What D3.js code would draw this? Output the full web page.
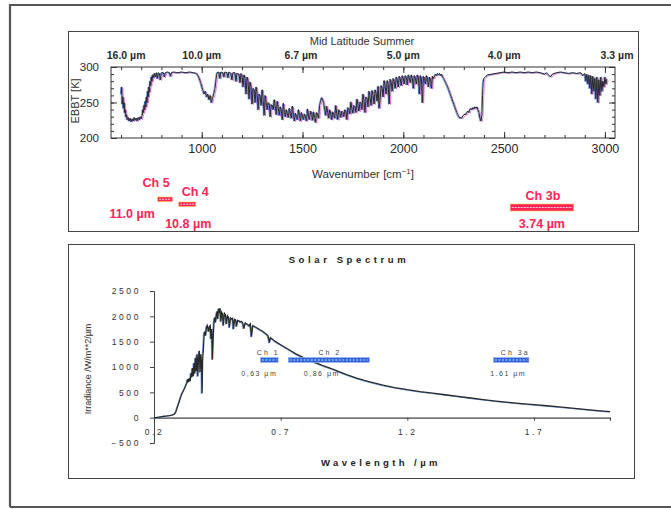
<!DOCTYPE html>
<html>
<head>
<meta charset="utf-8">
<script src="https://cdn.jsdelivr.net/npm/d3@7"></script>
<style>
  body { margin: 0; background: #fff; }
  svg { display: block; font-family: "Liberation Sans", Arial, Helvetica, sans-serif; }
</style>
</head>
<body>
<svg id="chart" width="671" height="509"></svg>
<script>
// ---- Mid-latitude summer brightness temperature spectrum: [wavenumber cm-1, EBBT K]
const irSpectrum = [
  [600,262],[603,272],[606,248],[609,258],[612,242],[615,250],[618,236],[621,240],[624,230],[627,233],
  [630,226],[635,229],[640,224],[645,228],[650,223],[655,227],[660,224],[665,229],[670,225],[675,228],
  [680,224],[685,229],[690,226],[695,230],[700,227],[705,232],[708,240],[711,236],[714,246],[717,240],
  [720,252],[723,244],[726,258],[729,250],[732,266],[735,258],[738,272],[741,265],[744,280],[747,274],
  [750,286],[753,280],[756,289],[760,285],[765,291],[770,286],[775,292],[780,284],[785,292],[790,291],
  [795,282],[800,292],[810,292],[815,286],[820,292],[830,293],[840,292],[845,287],[850,292],[860,293],
  [880,292],[900,293],[920,292],[940,293],[960,292],[975,291],[985,286],[995,278],[1005,268],[1012,262],
  [1018,266],[1024,258],[1030,262],[1036,254],[1042,260],[1048,250],[1054,256],[1060,262],[1066,270],[1072,284],
  [1076,292],[1085,293],[1090,284],[1095,293],[1105,292],[1110,286],[1115,293],[1125,292],[1130,285],[1135,293],
  [1145,291],[1150,282],[1155,292],[1165,292],[1170,280],[1175,291],[1185,290],[1190,278],[1195,291],[1200,288],
  [1205,272],[1210,289],[1215,284],[1220,262],[1225,286],[1230,280],[1235,255],[1240,279],[1245,272],[1250,248],
  [1255,270],[1260,268],[1265,250],[1270,272],[1275,262],[1280,240],[1285,262],[1290,258],[1295,246],[1300,268],
  [1305,254],[1310,232],[1315,260],[1320,250],[1325,240],[1330,250],[1335,248],[1340,230],[1345,247],[1350,246],
  [1355,240],[1360,254],[1365,244],[1370,233],[1375,252],[1380,242],[1385,232],[1390,244],[1395,238],[1400,226],
  [1405,249],[1410,236],[1415,230],[1420,240],[1425,234],[1430,229],[1435,242],[1440,234],[1445,228],[1450,245],
  [1455,232],[1460,224],[1465,235],[1470,230],[1475,226],[1480,240],[1485,232],[1490,224],[1495,236],[1500,230],
  [1505,226],[1510,234],[1515,230],[1520,224],[1525,241],[1530,230],[1535,226],[1540,238],[1545,236],[1550,225],
  [1555,237],[1560,229],[1565,222],[1570,236],[1575,233],[1580,228],[1585,246],[1590,252],[1595,257],[1600,254],
  [1605,250],[1610,240],[1615,232],[1620,245],[1625,236],[1630,228],[1635,240],[1640,234],[1645,226],[1650,237],
  [1655,233],[1660,228],[1665,246],[1670,234],[1675,226],[1680,240],[1685,236],[1690,229],[1695,238],[1700,236],
  [1705,230],[1710,240],[1715,238],[1720,226],[1725,243],[1730,240],[1735,234],[1740,251],[1745,241],[1750,235],
  [1755,246],[1760,244],[1765,236],[1770,255],[1775,246],[1780,238],[1785,251],[1790,248],[1795,240],[1800,262],
  [1805,252],[1810,236],[1815,258],[1820,255],[1825,244],[1830,266],[1835,257],[1840,246],[1845,267],[1850,260],
  [1855,248],[1860,268],[1865,263],[1870,252],[1875,273],[1880,242],[1885,254],[1890,274],[1895,270],[1900,258],
  [1905,281],[1910,273],[1915,262],[1920,281],[1925,276],[1930,248],[1935,283],[1940,278],[1945,266],[1950,284],
  [1955,280],[1960,270],[1965,286],[1970,282],[1975,272],[1980,287],[1985,283],[1990,274],[1995,288],[2000,284],
  [2005,276],[2010,288],[2015,285],[2020,275],[2025,289],[2030,285],[2035,278],[2040,289],[2045,284],[2050,270],
  [2055,288],[2060,284],[2065,276],[2070,289],[2075,285],[2080,262],[2085,288],[2090,283],[2095,250],[2100,287],
  [2105,284],[2110,276],[2115,288],[2120,283],[2125,272],[2130,286],[2135,282],[2140,270],[2145,287],[2150,284],
  [2155,287],[2160,290],[2165,288],[2170,291],[2175,289],[2180,291],[2185,288],[2190,290],[2195,286],[2200,284],
  [2205,281],[2210,278],[2215,275],[2220,272],[2225,268],[2230,264],[2235,260],[2240,256],[2245,252],[2250,248],
  [2255,244],[2260,240],[2265,236],[2270,233],[2275,230],[2280,228],[2285,229],[2290,228],[2295,231],[2300,232],
  [2305,234],[2310,233],[2315,236],[2320,238],[2325,236],[2330,240],[2335,242],[2340,240],[2345,243],[2350,241],
  [2355,244],[2360,242],[2365,244],[2370,240],[2375,236],[2380,228],[2385,224],[2390,232],[2393,260],[2396,278],
  [2400,284],[2410,287],[2420,289],[2440,290],[2460,291],[2480,292],[2500,293],[2520,292],[2540,293],[2560,292],
  [2580,293],[2600,292],[2620,293],[2640,292],[2660,293],[2680,292],[2700,290],[2710,292],[2720,289],[2730,286],
  [2740,290],[2760,292],[2780,293],[2800,292],[2820,291],[2840,292],[2860,291],[2880,292],[2890,288],[2900,291],
  [2905,280],[2910,290],[2915,276],[2920,289],[2925,270],[2930,288],[2935,262],[2940,287],[2945,266],[2950,284],
  [2955,255],[2960,286],[2965,250],[2970,282],[2975,260],[2980,286],[2985,266],[2990,280],[2995,272],[3000,286],
  [3005,276],[3010,283]
];
const irXTicks = [1000, 1500, 2000, 2500, 3000];
const irYTicks = [200, 250, 300];
const irTopWavelengths = [16.0, 10.0, 6.7, 5.0, 4.0, 3.3];
const irTopLabels = ["16.0 µm", "10.0 µm", "6.7 µm", "5.0 µm", "4.0 µm", "3.3 µm"];
const irChannelNames = ["Ch 5", "Ch 4", "Ch 3b"];
const irChannelBands = [[781, 856], [886, 970], [2530, 2845]];
const irChannelCentres = ["11.0 µm", "10.8 µm", "3.74 µm"];

// ---- Solar spectrum: [wavelength µm, irradiance W/m**2/µm]
const solarSpectrum = [
  [0.20,0],[0.21,4],[0.22,12],[0.23,20],[0.24,28],[0.25,34],[0.26,42],[0.27,52],[0.28,68],[0.285,100],
  [0.29,170],[0.295,250],[0.30,320],[0.305,400],[0.31,470],[0.315,520],[0.32,570],[0.325,630],[0.33,690],[0.333,760],
  [0.336,700],[0.34,780],[0.343,720],[0.346,880],[0.349,800],[0.352,980],[0.355,820],[0.358,1080],[0.361,870],[0.364,1180],
  [0.367,920],[0.370,1250],[0.373,820],[0.376,1200],[0.379,1320],[0.382,900],[0.385,1250],[0.388,1050],[0.390,480],[0.392,1150],
  [0.395,1350],[0.398,1650],[0.401,1700],[0.404,1620],[0.407,1780],[0.410,1820],[0.413,1760],[0.416,1700],[0.419,1800],[0.422,1820],
  [0.425,1560],[0.428,1750],[0.431,1150],[0.434,1600],[0.437,1900],[0.440,1980],[0.443,1880],[0.446,2020],[0.449,2100],[0.452,1950],
  [0.455,2150],[0.458,2100],[0.461,2160],[0.464,1900],[0.467,2080],[0.470,2050],[0.474,1820],[0.478,2060],[0.482,2030],[0.486,1850],
  [0.490,2010],[0.494,1980],[0.498,1780],[0.502,1970],[0.506,1950],[0.510,1960],[0.514,1750],[0.518,1940],[0.522,1930],[0.526,1800],
  [0.530,1920],[0.535,1910],[0.540,1890],[0.545,1900],[0.550,1870],[0.555,1760],[0.560,1870],[0.565,1850],[0.570,1840],[0.575,1810],
  [0.580,1850],[0.585,1600],[0.590,1820],[0.600,1790],[0.610,1760],[0.620,1730],[0.630,1700],[0.640,1660],[0.650,1620],[0.656,1480],
  [0.660,1580],[0.680,1500],[0.700,1440],[0.720,1380],[0.740,1320],[0.760,1260],[0.780,1210],[0.800,1160],[0.820,1120],[0.850,1060],
  [0.870,1020],[0.900,970],[0.930,910],[0.960,850],[1.00,780],[1.03,735],[1.06,695],[1.10,645],[1.15,595],[1.20,552],
  [1.25,515],[1.30,485],[1.35,452],[1.40,420],[1.45,388],[1.50,358],[1.55,328],[1.60,302],[1.65,278],[1.70,256],
  [1.75,235],[1.80,212],[1.85,190],[1.90,165],[1.95,140],[2.00,118]
];
const solarXTicks = [0.2, 0.7, 1.2, 1.7];
const solarYTicks = [-500, 0, 500, 1000, 1500, 2000, 2500];
const solarChannelNames = ["Ch 1", "Ch 2", "Ch 3a"];
const solarChannelBands = [[0.62, 0.69], [0.73, 1.05], [1.54, 1.68]];
const solarChannelCentres = ["0,63 µm", "0,86 µm", "1.61 µm"];

const svg = d3.select("#chart");
const RED = "#ff2458";
const BLUE = "#2f62d6";

// outer frame and panel boxes
svg.append("path").attr("d", "M10,507 L10,5 L671,5 M10,507 L671,507")
  .attr("fill", "none").attr("stroke", "#555").attr("stroke-width", 2.2);
svg.append("rect").attr("x", 68.5).attr("y", 31.5).attr("width", 570).attr("height", 200)
  .attr("fill", "none").attr("stroke", "#444").attr("stroke-width", 1);
svg.append("rect").attr("x", 68.5).attr("y", 244.5).attr("width", 566).attr("height", 234)
  .attr("fill", "none").attr("stroke", "#444").attr("stroke-width", 1);

// ================= Top panel: EBBT vs wavenumber =================
const ir = { left: 111, right: 615, top: 67, bottom: 138 };
const xIR = d3.scaleLinear().domain([550, 3050]).range([ir.left, ir.right]);
const yIR = d3.scaleLinear().domain([200, 300]).range([ir.bottom, ir.top]);
const gIR = svg.append("g");

svg.append("defs").append("clipPath").attr("id", "irclip")
  .append("rect").attr("x", ir.left).attr("y", ir.top - 2).attr("width", ir.right - ir.left).attr("height", ir.bottom - ir.top + 4);

const irLine = d3.line().x(d => xIR(d[0])).y(d => yIR(d[1]));
const irLayers = [
  { color: "#d64fc8", dx: 1.2, dy: 0.8, w: 0.9, op: 0.75 },
  { color: "#3d78d8", dx: -0.8, dy: 0.4, w: 0.9, op: 0.8 },
  { color: "#2b2b2b", dx: 0, dy: 0, w: 1.0, op: 1 }
];
const irPlot = gIR.append("g").attr("clip-path", "url(#irclip)");
irLayers.forEach(l => {
  irPlot.append("path").datum(irSpectrum)
    .attr("d", irLine)
    .attr("transform", `translate(${l.dx},${l.dy})`)
    .attr("fill", "none").attr("stroke", l.color)
    .attr("stroke-width", l.w).attr("opacity", l.op);
});

gIR.append("rect").attr("x", ir.left).attr("y", ir.top)
  .attr("width", ir.right - ir.left).attr("height", ir.bottom - ir.top)
  .attr("fill", "none").attr("stroke", "#333").attr("stroke-width", 1);

// inward ticks on all four sides
const minorX = d3.range(600, 3050, 100);
const minorY = d3.range(200, 301, 10);
function styleAxis(g) {
  g.select(".domain").remove();
  g.selectAll("line").attr("stroke", "#333");
}
gIR.append("g").attr("transform", `translate(0,${ir.bottom})`)
  .call(d3.axisBottom(xIR).tickValues(minorX).tickSize(-3).tickFormat("")).call(styleAxis);
gIR.append("g").attr("transform", `translate(0,${ir.top})`)
  .call(d3.axisTop(xIR).tickValues(minorX).tickSize(-3).tickFormat("")).call(styleAxis);
gIR.append("g").attr("transform", `translate(0,${ir.top})`)
  .call(d3.axisTop(xIR).tickValues(irXTicks).tickSize(-6).tickFormat("")).call(styleAxis);
const xAxisIR = gIR.append("g").attr("transform", `translate(0,${ir.bottom})`)
  .call(d3.axisBottom(xIR).tickValues(irXTicks).tickSize(-6).tickPadding(6).tickFormat(d3.format("d")));
xAxisIR.call(styleAxis);
xAxisIR.selectAll("text").attr("font-size", 12.5).attr("fill", "#2a2a2a").attr("font-family", "Liberation Sans, Arial, sans-serif");

gIR.append("g").attr("transform", `translate(${ir.left},0)`)
  .call(d3.axisLeft(yIR).tickValues(minorY).tickSize(-3).tickFormat("")).call(styleAxis);
gIR.append("g").attr("transform", `translate(${ir.right},0)`)
  .call(d3.axisRight(yIR).tickValues(minorY).tickSize(-3).tickFormat("")).call(styleAxis);
gIR.append("g").attr("transform", `translate(${ir.right},0)`)
  .call(d3.axisRight(yIR).tickValues(irYTicks).tickSize(-6).tickFormat("")).call(styleAxis);
const yAxisIR = gIR.append("g").attr("transform", `translate(${ir.left},0)`)
  .call(d3.axisLeft(yIR).tickValues(irYTicks).tickSize(-6).tickPadding(12).tickFormat(d3.format("d")));
yAxisIR.call(styleAxis);
yAxisIR.selectAll("text").attr("font-size", 11.5).attr("fill", "#2a2a2a").attr("font-family", "Liberation Sans, Arial, sans-serif");

// top wavelength labels placed at 10^4 / λ
gIR.selectAll("text.wl").data(irTopWavelengths).join("text")
  .attr("class", "wl")
  .attr("x", (d, i) => xIR(1e4 / d) + (i === irTopWavelengths.length - 1 ? 6 : 0))
  .attr("y", 59).attr("text-anchor", "middle")
  .attr("font-size", 10.5).attr("font-weight", "bold").attr("fill", "#2a2a2a")
  .text((d, i) => irTopLabels[i]);

gIR.append("text").attr("x", 362).attr("y", 45).attr("text-anchor", "middle")
  .attr("font-size", 11).attr("fill", "#333").text("Mid Latitude Summer");

const xt = gIR.append("text").attr("x", 363).attr("y", 178).attr("text-anchor", "middle")
  .attr("font-size", 11.5).attr("fill", "#333");
xt.append("tspan").text("Wavenumber [cm");
xt.append("tspan").attr("dy", -4).attr("font-size", 8).text("−1");
xt.append("tspan").attr("dy", 4).text("]");

gIR.append("text").attr("transform", "translate(79,101) rotate(-90)")
  .attr("text-anchor", "middle").attr("font-size", 11).attr("fill", "#333").text("EBBT [K]");

// AVHRR thermal channel bands (red)
const irRectY = [197, 202, 204];
const irRectH = [4.5, 4.5, 7];
const irNameOffset = [[-9, 187], [8, 196], [1, 200]];
const irCentreOffset = [[-33, 218], [1, 228], [0, 228]];
irChannelBands.forEach((b, i) => {
  const x0 = xIR(b[0]), x1 = xIR(b[1]), xc = (x0 + x1) / 2;
  gIR.append("rect").attr("x", x0).attr("y", irRectY[i]).attr("width", x1 - x0).attr("height", irRectH[i])
    .attr("fill", RED).attr("stroke", "#f6c04a").attr("stroke-width", 0.6);
  gIR.append("line").attr("x1", x0 + 1.5).attr("x2", x1 - 1.5)
    .attr("y1", irRectY[i] + irRectH[i] / 2).attr("y2", irRectY[i] + irRectH[i] / 2)
    .attr("stroke", "#ffd0dc").attr("stroke-width", 1).attr("stroke-dasharray", "2,1");
  gIR.append("text").attr("x", xc + irNameOffset[i][0]).attr("y", irNameOffset[i][1])
    .attr("text-anchor", "middle").attr("font-size", 12.5).attr("font-weight", "bold")
    .attr("fill", RED).text(irChannelNames[i]);
  gIR.append("text").attr("x", xc + irCentreOffset[i][0]).attr("y", irCentreOffset[i][1])
    .attr("text-anchor", "middle").attr("font-size", 12.5).attr("font-weight", "bold")
    .attr("fill", RED).text(irChannelCentres[i]);
});

// ================= Bottom panel: solar spectrum =================
const so = { left: 154, right: 610, top: 291, bottom: 443 };
const xS = d3.scaleLinear().domain([0.2, 2.0]).range([so.left, so.right]);
const yS = d3.scaleLinear().domain([-500, 2500]).range([so.bottom, so.top]);
const gS = svg.append("g");

const yAxisS = gS.append("g").attr("transform", `translate(${so.left},0)`)
  .call(d3.axisLeft(yS).tickValues(solarYTicks).tickSize(4).tickPadding(9).tickFormat(d3.format("d")));
yAxisS.select(".domain").attr("stroke", "#444");
yAxisS.selectAll("line").attr("stroke", "#444");
yAxisS.selectAll("text").attr("font-size", 8.5).attr("letter-spacing", "2.6px")
  .attr("fill", "#333").attr("font-family", "Liberation Sans, Arial, sans-serif");

const xAxisS = gS.append("g").attr("transform", `translate(0,${yS(0)})`)
  .call(d3.axisBottom(xS).tickValues(solarXTicks).tickSize(3).tickPadding(8).tickFormat(d3.format(".1f")));
xAxisS.select(".domain").attr("stroke", "#444").attr("stroke-width", 1.2);
xAxisS.selectAll("line").attr("stroke", "#444");
xAxisS.selectAll("text").attr("font-size", 8.5).attr("letter-spacing", "2.6px")
  .attr("fill", "#333").attr("font-family", "Liberation Sans, Arial, sans-serif");

const sLine = d3.line().x(d => xS(d[0])).y(d => yS(d[1]));
gS.append("path").datum(solarSpectrum).attr("d", sLine)
  .attr("transform", "translate(-0.8,0.5)")
  .attr("fill", "none").attr("stroke", "#4a86e0").attr("stroke-width", 1).attr("opacity", 0.8);
gS.append("path").datum(solarSpectrum).attr("d", sLine)
  .attr("fill", "none").attr("stroke", "#2a2a2a").attr("stroke-width", 1.3);

gS.append("text").attr("x", 349).attr("y", 263).attr("text-anchor", "middle")
  .attr("font-size", 9.5).attr("font-weight", "bold").attr("letter-spacing", "3.6px")
  .attr("fill", "#222").text("Solar Spectrum");
gS.append("text").attr("x", 381).attr("y", 466).attr("text-anchor", "middle")
  .attr("font-size", 9.5).attr("font-weight", "bold").attr("letter-spacing", "3.4px")
  .attr("fill", "#222").text("Wavelength /µm");
gS.append("text").attr("transform", "translate(91,369) rotate(-90)")
  .attr("text-anchor", "middle").attr("font-size", 9).attr("fill", "#333")
  .text("Irradiance /W/m**2/µm");

// AVHRR solar channel bands (blue)
const sNameDx = [-1, 1, 4];
const sCentreDx = [-10, -7, -3];
solarChannelBands.forEach((b, i) => {
  const x0 = xS(b[0]), x1 = xS(b[1]), xc = (x0 + x1) / 2;
  gS.append("rect").attr("x", x0).attr("y", 357.5).attr("width", x1 - x0).attr("height", 5)
    .attr("fill", BLUE).attr("stroke", "#9fc0f0").attr("stroke-width", 0.6);
  gS.append("line").attr("x1", x0 + 1.5).attr("x2", x1 - 1.5).attr("y1", 360).attr("y2", 360)
    .attr("stroke", "#c8dcf8").attr("stroke-width", 1).attr("stroke-dasharray", "2,1.5");
  gS.append("text").attr("x", xc + sNameDx[i]).attr("y", 355).attr("text-anchor", "middle")
    .attr("font-size", 7).attr("letter-spacing", "2px").attr("fill", "#444").text(solarChannelNames[i]);
  gS.append("text").attr("x", xc + sCentreDx[i]).attr("y", 376).attr("text-anchor", "middle")
    .attr("font-size", 7).attr("letter-spacing", "1.5px").attr("fill", "#444").text(solarChannelCentres[i]);
});
</script>
</body>
</html>
